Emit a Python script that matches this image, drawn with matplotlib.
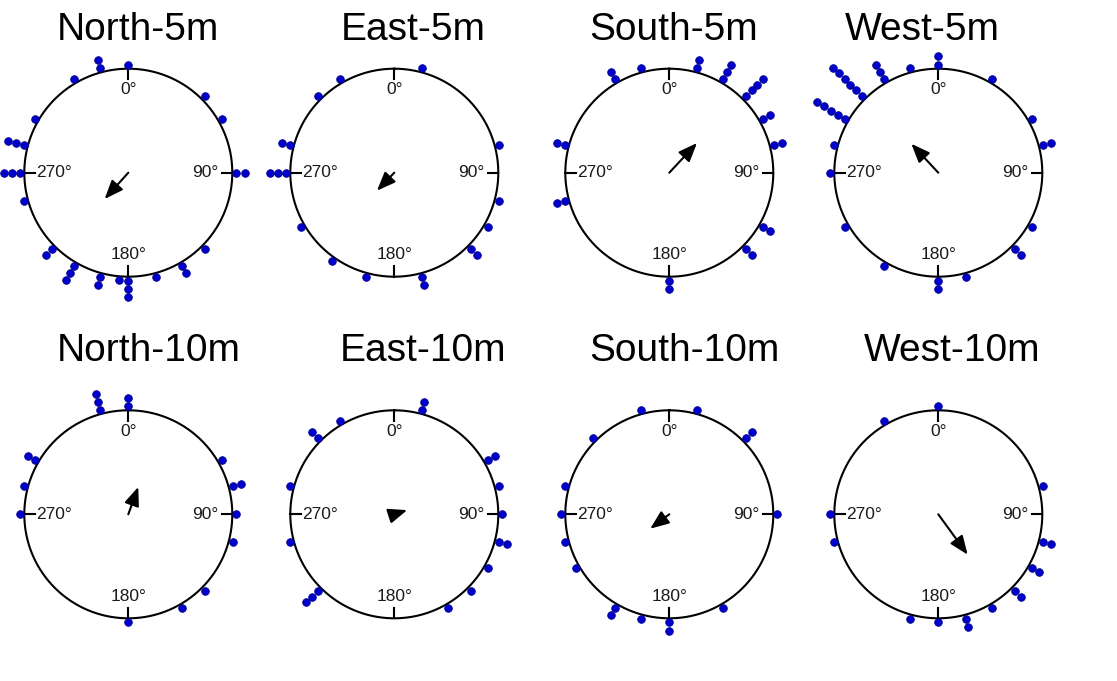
"""Circular plots of orientations (8 sites), stacked points + mean resultant arrow."""
import matplotlib
matplotlib.use('Agg')
import matplotlib.pyplot as plt
import numpy as np

plt.rcParams['font.family'] = ['Liberation Sans', 'DejaVu Sans']

W, H = 1117, 681

TITLES = ['North-5m', 'East-5m', 'South-5m', 'West-5m',
          'North-10m', 'East-10m', 'South-10m', 'West-10m']

# angles in degrees (clockwise from 0 = north), repeats are stacked
north_5m = [0, 345, 345, 330, 300, 285, 285, 285, 270, 270, 270, 255,
            225, 225, 210, 210, 210, 195, 195, 185, 180, 180, 180, 165,
            150, 150, 135, 90, 90, 60, 45]
east_5m = [15, 330, 315, 285, 285, 270, 270, 270, 240, 215, 195, 165, 165,
           135, 135, 120, 105, 75]
south_5m = [345, 330, 330, 15, 15, 30, 30, 30, 45, 45, 45, 45, 60, 60,
            75, 75, 120, 120, 135, 135, 180, 180, 255, 255, 285, 285]
west_5m = [0, 0, 345, 330, 330, 330, 315, 315, 315, 315, 315, 315,
           300, 300, 300, 300, 300, 285, 270, 240, 210, 180, 180, 165,
           135, 135, 120, 75, 75, 60, 30]
north_10m = [0, 0, 345, 345, 345, 300, 300, 285, 270, 180, 150, 135, 105,
             90, 75, 75, 60]
east_10m = [15, 15, 330, 315, 315, 285, 255, 225, 225, 225, 150, 135, 120,
            105, 105, 90, 75, 60, 60]
south_10m = [345, 15, 45, 45, 315, 285, 270, 255, 240, 210, 210, 195,
             180, 180, 150, 90]
west_10m = [0, 330, 270, 255, 195, 180, 165, 165, 150, 135, 135, 120, 120,
            105, 105, 75]

ANGLES = [north_5m, east_5m, south_5m, west_5m,
          north_10m, east_10m, south_10m, west_10m]

# mean direction (deg) and mean resultant length
MEAN_DIR = [222, 224, 43, 317, 20, 72, 233, 144]
MEAN_LEN = [0.34, 0.24, 0.39, 0.38, 0.28, 0.13, 0.23, 0.48]

# layout (pixels)
CX = [128.3, 394.3, 669.3, 938.3]
CY = [172.7, 514.3]
TITLE_X = [57, 341, 589, 845, 57, 340, 589, 864]
TITLE_BASE = [40, 361]
HALF = 130  # half size of each axes box in px (radius 1 -> 104 px)


def stack_positions(angles, r0=1.04, step=0.078):
    counts = {}
    xs, ys = [], []
    for a in angles:
        k = counts.get(a, 0)
        counts[a] = k + 1
        r = r0 + step * k
        t = np.deg2rad(a)
        xs.append(r * np.sin(t))
        ys.append(r * np.cos(t))
    return np.array(xs), np.array(ys)


def draw_panel(ax, angles, mdir, mlen):
    t = np.linspace(0, 2 * np.pi, 400)
    ax.plot(np.sin(t), np.cos(t), color='black', lw=1.5)
    for a in (0, 90, 180, 270):
        r = np.deg2rad(a)
        ax.plot([0.9 * np.sin(r), np.sin(r)], [0.9 * np.cos(r), np.cos(r)],
                color='black', lw=1.5)
    kw = dict(fontsize=12.5, color='#1a1a1a')
    ax.text(0, 0.80, '0°', ha='center', va='center', **kw)
    ax.text(0, -0.79, '180°', ha='center', va='center', **kw)
    ax.text(0.87, 0, '90°', ha='right', va='center', **kw)
    ax.text(-0.885, 0, '270°', ha='left', va='center', **kw)

    xs, ys = stack_positions(angles)
    ax.scatter(xs, ys, s=30, color='#0000CD', edgecolor='#00008B',
               linewidth=0.6, zorder=3, clip_on=False)

    md = np.deg2rad(mdir)
    ax.annotate('', xy=(mlen * np.sin(md), mlen * np.cos(md)), xytext=(0, 0),
                arrowprops=dict(arrowstyle='-|>,head_length=0.95,head_width=0.38',
                                color='black', lw=1.5, shrinkA=0, shrinkB=0,
                                mutation_scale=12))
    ax.set_xlim(-1.25, 1.25)
    ax.set_ylim(-1.25, 1.25)
    ax.set_aspect('equal')
    ax.axis('off')


def main():
    fig = plt.figure(figsize=(W / 100, H / 100), dpi=100)
    for i, (title, angles) in enumerate(zip(TITLES, ANGLES)):
        row, col = divmod(i, 4)
        cx, cy = CX[col], CY[row]
        ax = fig.add_axes([(cx - HALF) / W, (H - cy - HALF) / H,
                           2 * HALF / W, 2 * HALF / H])
        draw_panel(ax, angles, MEAN_DIR[i], MEAN_LEN[i])
        fig.text(TITLE_X[i] / W, (H - TITLE_BASE[row]) / H, title,
                 ha='left', va='baseline', fontsize=28, color='black')
    fig.savefig('out.png', dpi=100, facecolor='white')
    plt.close(fig)


if __name__ == '__main__':
    main()
